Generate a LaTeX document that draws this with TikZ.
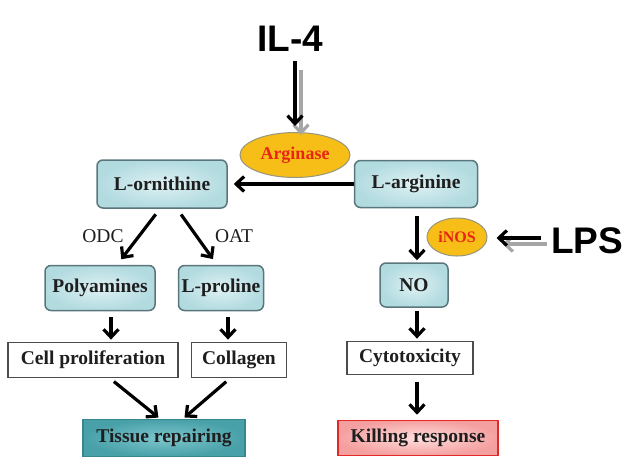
\documentclass[tikz,border=0pt]{standalone}
\usepackage{fontspec}
\setmainfont{Liberation Serif}
\newfontfamily\arialfont{Liberation Sans}
\usetikzlibrary{arrows.meta,shapes.geometric}
\definecolor{cyin}{RGB}{222,241,243}
\definecolor{cyout}{RGB}{178,219,224}
\definecolor{cyedge}{RGB}{90,118,124}
\definecolor{tin}{RGB}{125,198,204}
\definecolor{tout}{RGB}{72,160,168}
\definecolor{tedge}{RGB}{55,135,145}
\definecolor{kin}{RGB}{255,222,222}
\definecolor{kout}{RGB}{245,160,160}
\definecolor{kedge}{RGB}{228,40,40}
\definecolor{ellfill}{RGB}{246,190,22}
\definecolor{elledge}{RGB}{150,150,125}
\definecolor{enzred}{RGB}{232,38,20}
\definecolor{txt}{RGB}{30,30,30}
\tikzset{
  boxfont/.style={font=\bfseries\fontsize{19.5}{22}\selectfont, text=txt},
  cbox/.style={boxfont, draw=cyedge, line width=1.5pt, rounded corners=6pt,
    inner color=cyin, outer color=cyout, inner sep=0pt},
  wbox/.style={boxfont, draw=black!70, line width=1.8pt, fill=white, inner sep=0pt},
  tbox/.style={boxfont, draw=tedge, line width=1.4pt, inner color=tin, outer color=tout, inner sep=0pt},
  kbox/.style={boxfont, draw=kedge, line width=1.6pt, inner color=kin, outer color=kout, inner sep=0pt},
  enz/.style={ellipse, draw=elledge, line width=1pt, fill=ellfill, inner sep=0pt,
    font=\bfseries\fontsize{18}{20}\selectfont, text=enzred},
  big/.style={font=\arialfont\bfseries\fontsize{37}{40}\selectfont, text=black, inner sep=0pt},
  lab/.style={font=\fontsize{19.5}{22}\selectfont, text=txt, inner sep=0pt},
  arr/.style={draw=black, line width=3.2pt, -{Straight Barb[length=8pt,width=15pt]}},
  sarrv/.style={arr, preaction={draw=black!35, line width=3.2pt, -{Straight Barb[length=8pt,width=15pt]}, transform canvas={shift={(6pt,-9pt)}}}},
  sarrh/.style={arr, preaction={draw=black!35, line width=3.2pt, -{Straight Barb[length=8pt,width=15pt]}, transform canvas={shift={(6pt,-6pt)}}}},
}
\begin{document}
\begin{tikzpicture}[x=1pt,y=-1pt]
\useasboundingbox (0,0) rectangle (637,475);
% nodes
\node[big] (il4) at (290,39) {IL-4};
\node[enz, minimum width=110, minimum height=45] (arg) at (295,155) {Arginase};
\node[cbox, minimum width=130, minimum height=48] (orn) at (162,184) {L-ornithine};
\node[cbox, minimum width=123, minimum height=47] (argn) at (416,184) {L-arginine};
\node[lab] (odc) at (103,236) {ODC};
\node[lab] (oat) at (234,236) {OAT};
\node[cbox, minimum width=110, minimum height=45] (poly) at (100,288) {Polyamines};
\node[cbox, minimum width=85, minimum height=45] (pro) at (221,288) {L-proline};
\node[wbox, minimum width=170, minimum height=35] (cell) at (93,360) {Cell proliferation};
\node[wbox, minimum width=95, minimum height=35] (col) at (239,360) {Collagen};
\node[tbox, minimum width=162, minimum height=37] (tis) at (164,438) {Tissue repairing};
\node[enz, minimum width=60, minimum height=38, font=\bfseries\fontsize{16}{18}\selectfont] (inos) at (457,237) {iNOS};
\node[big] (lps) at (587,241) {LPS};
\node[cbox, minimum width=68, minimum height=44] (no) at (414,285) {NO};
\node[wbox, minimum width=126, minimum height=33] (cyt) at (410,358) {Cytotoxicity};
\node[kbox, minimum width=160, minimum height=35] (kill) at (418,438) {Killing response};
% connectors
\draw[sarrv, shorten <=9pt, shorten >=6pt] ([xshift=5]il4.south) -- ([xshift=0]arg.north);
\draw[arr, shorten >=6pt] (argn.west) -- (orn.east);
\draw[arr, shorten <=7pt, shorten >=7pt] ([xshift=-2]orn.south) -- ([xshift=17]poly.north);
\draw[arr, shorten <=7pt, shorten >=7pt] ([xshift=15]orn.south) -- ([xshift=-4]pro.north);
\draw[arr, shorten <=6pt, shorten >=2pt] ([xshift=11]poly.south) -- ([xshift=18]cell.north);
\draw[arr, shorten <=6pt, shorten >=2pt] ([xshift=7]pro.south) -- ([xshift=-11]col.north);
\draw[arr, shorten <=5pt, shorten >=2pt] ([xshift=17]cell.south) -- ([xshift=-4]tis.north);
\draw[arr, shorten <=5pt, shorten >=2pt] ([xshift=-9]col.south) -- ([xshift=19]tis.north);
\draw[arr, shorten <=8pt, shorten >=2pt] ([xshift=1]argn.south) -- ([xshift=3]no.north);
\draw[sarrh, shorten <=10pt, shorten >=9pt] ([yshift=3]lps.west) -- ([yshift=-1]inos.east);
\draw[arr, shorten <=3pt, shorten >=2pt] ([xshift=3]no.south) -- ([xshift=7]cyt.north);
\draw[arr, shorten <=7pt, shorten >=5pt] ([xshift=7]cyt.south) -- ([xshift=-1]kill.north);
\end{tikzpicture}
\end{document}
